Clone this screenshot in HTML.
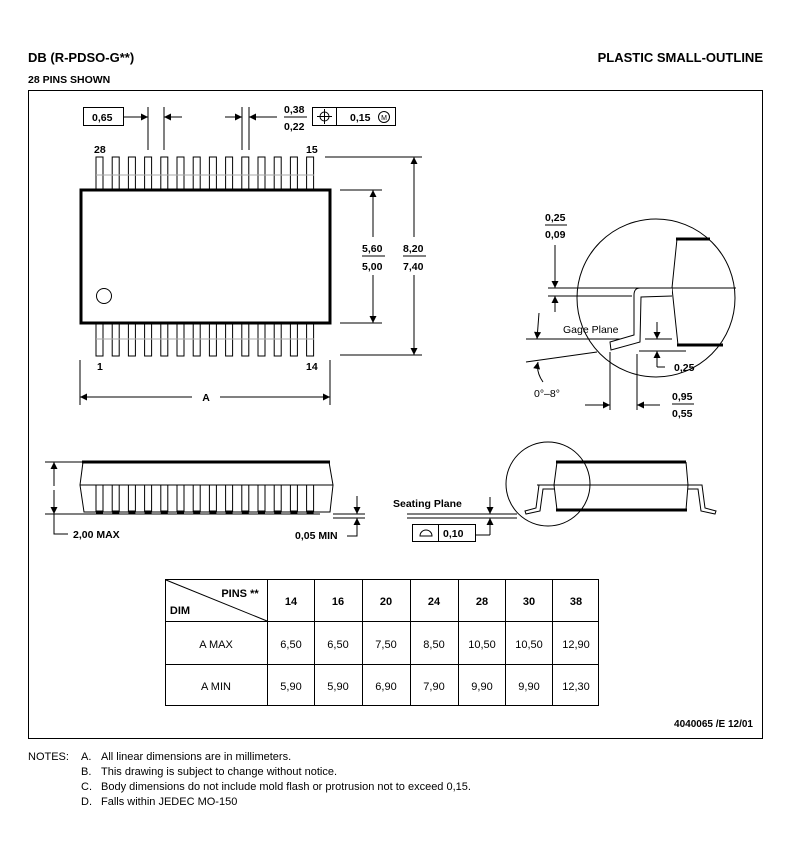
<!DOCTYPE html>
<html><head><meta charset="utf-8"><style>
html,body{margin:0;padding:0;background:#fff;}
svg{display:block;font-family:"Liberation Sans",Arial,sans-serif;}
.b{font-weight:bold;}
</style></head><body>
<svg width="791" height="860" viewBox="0 0 791 860" xmlns="http://www.w3.org/2000/svg">
<defs>
<marker id="a" viewBox="0 0 10 10" refX="10" refY="5" markerWidth="9" markerHeight="7" orient="auto-start-reverse" markerUnits="userSpaceOnUse"><path d="M0,0L10,5L0,10z" fill="#000"/></marker>
</defs>
<g fill="#000">
<text x="28" y="62" class="b" font-size="13">DB (R-PDSO-G**)</text>
<text x="763" y="62" class="b" font-size="13" text-anchor="end">PLASTIC SMALL-OUTLINE</text>
<text x="28" y="83" class="b" font-size="10.5">28 PINS SHOWN</text>
</g>
<rect x="28.5" y="90.5" width="734" height="648" fill="none" stroke="#000" stroke-width="1"/>

<g stroke="#000" stroke-width="1" fill="#fff">
<g id="pt">
<rect x="96" y="157" width="7" height="33"/><rect x="112.2" y="157" width="7" height="33"/><rect x="128.4" y="157" width="7" height="33"/><rect x="144.6" y="157" width="7" height="33"/><rect x="160.8" y="157" width="7" height="33"/><rect x="177" y="157" width="7" height="33"/><rect x="193.2" y="157" width="7" height="33"/><rect x="209.4" y="157" width="7" height="33"/><rect x="225.6" y="157" width="7" height="33"/><rect x="241.8" y="157" width="7" height="33"/><rect x="258" y="157" width="7" height="33"/><rect x="274.2" y="157" width="7" height="33"/><rect x="290.4" y="157" width="7" height="33"/><rect x="306.6" y="157" width="7" height="33"/>
</g>
<use href="#pt" transform="translate(0,166)"/>
</g>
<line x1="96" y1="175" x2="314" y2="175" stroke="#aaa" stroke-width="1"/>
<line x1="96" y1="339" x2="314" y2="339" stroke="#aaa" stroke-width="1"/>
<rect x="81" y="190" width="249" height="133" fill="#fff" stroke="#000" stroke-width="3"/>
<circle cx="104" cy="296" r="7.5" fill="none" stroke="#000" stroke-width="1"/>
<g font-size="10.5" class="b">
<text x="94" y="153">28</text><text x="306" y="153">15</text>
<text x="97" y="370">1</text><text x="306" y="370">14</text>
</g>

<g stroke="#000" stroke-width="1" fill="none">
<rect x="83.5" y="107.5" width="40" height="18"/>
<line x1="148" y1="107" x2="148" y2="150"/><line x1="164" y1="107" x2="164" y2="150"/>
<line x1="242" y1="107" x2="242" y2="150"/><line x1="249" y1="107" x2="249" y2="150"/>
<line x1="123" y1="117" x2="148" y2="117" marker-end="url(#a)"/>
<line x1="182" y1="117" x2="164" y2="117" marker-end="url(#a)"/>
<line x1="225" y1="117" x2="242" y2="117" marker-end="url(#a)"/>
<line x1="277" y1="117" x2="249" y2="117" marker-end="url(#a)"/>
<line x1="284" y1="117" x2="307" y2="117"/>
<rect x="312.5" y="107.5" width="83" height="18"/>
<line x1="336.5" y1="107" x2="336.5" y2="126"/>
<circle cx="324.5" cy="116.5" r="4.5"/><line x1="324.5" y1="109" x2="324.5" y2="124"/><line x1="317" y1="116.5" x2="332" y2="116.5"/>
<circle cx="384" cy="117" r="5.5"/>
</g>
<g font-size="10.5" class="b">
<text x="92" y="121">0,65</text>
<text x="284" y="113">0,38</text><text x="284" y="130">0,22</text>
<text x="350" y="121">0,15</text>
</g>
<text x="384" y="120" font-size="7" text-anchor="middle">M</text>

<g stroke="#000" stroke-width="1" fill="none">
<line x1="340" y1="190" x2="382" y2="190"/><line x1="340" y1="323" x2="382" y2="323"/>
<line x1="373" y1="237" x2="373" y2="190" marker-end="url(#a)"/>
<line x1="373" y1="275" x2="373" y2="323" marker-end="url(#a)"/>
<line x1="325" y1="157" x2="422" y2="157"/><line x1="340" y1="355" x2="422" y2="355"/>
<line x1="414" y1="237" x2="414" y2="157" marker-end="url(#a)"/>
<line x1="414" y1="275" x2="414" y2="355" marker-end="url(#a)"/>
<line x1="362" y1="256" x2="385" y2="256"/><line x1="403" y1="256" x2="426" y2="256"/>
</g>
<g font-size="10.5" class="b">
<text x="362" y="252">5,60</text><text x="362" y="270">5,00</text>
<text x="403" y="252">8,20</text><text x="403" y="270">7,40</text>
</g>

<g stroke="#000" stroke-width="1" fill="none">
<line x1="80" y1="360" x2="80" y2="405"/><line x1="330" y1="360" x2="330" y2="405"/>
<line x1="192" y1="397" x2="80" y2="397" marker-end="url(#a)"/>
<line x1="220" y1="397" x2="330" y2="397" marker-end="url(#a)"/>
</g>
<text x="206" y="401" font-size="10.5" class="b" text-anchor="middle">A</text>

<g stroke="#000" stroke-width="1" fill="none">
<circle cx="656" cy="298" r="79"/>
<line x1="548" y1="288" x2="736" y2="288"/>
<line x1="548" y1="296" x2="632" y2="296"/>
<path d="M677,239 L672,288 L678,345"/>
<line x1="676" y1="239" x2="710" y2="239" stroke-width="3"/>
<line x1="677" y1="345" x2="723" y2="345" stroke-width="3"/>
<path d="M672,288 L640,288 Q634,288 634,295 L634,335 L610,342 L611,350 L640,342 L641,297 L672,296" fill="#fff"/>
<line x1="555" y1="245" x2="555" y2="288" marker-end="url(#a)"/>
<line x1="555" y1="312" x2="555" y2="296" marker-end="url(#a)"/>
<line x1="526" y1="339" x2="620" y2="339"/>
<line x1="526" y1="362" x2="597" y2="352"/>
<path d="M539,313 L537,339" marker-end="url(#a)"/>
<path d="M543,382 Q536,372 538,362" marker-end="url(#a)"/>
<line x1="645" y1="339" x2="672" y2="339"/><line x1="639" y1="351" x2="686" y2="351"/>
<line x1="657" y1="322" x2="657" y2="339" marker-end="url(#a)"/>
<line x1="657" y1="367" x2="657" y2="351" marker-end="url(#a)"/>
<line x1="657" y1="367" x2="665" y2="367"/>
<line x1="610" y1="352" x2="610" y2="410"/><line x1="637" y1="354" x2="637" y2="410"/>
<line x1="585" y1="405" x2="610" y2="405" marker-end="url(#a)"/>
<line x1="660" y1="405" x2="637" y2="405" marker-end="url(#a)"/>
<line x1="545" y1="225" x2="567" y2="225"/>
<line x1="672" y1="404" x2="694" y2="404"/>
</g>
<g font-size="10.5">
<text x="545" y="221" class="b">0,25</text><text x="545" y="238" class="b">0,09</text>
<text x="563" y="333">Gage Plane</text>
<text x="534" y="397">0°–8°</text>
<text x="674" y="371" class="b">0,25</text>
<text x="672" y="400" class="b">0,95</text><text x="672" y="417" class="b">0,55</text>
</g>

<g stroke="#000" stroke-width="1" fill="none">
<path d="M83,462 L80,485 L84,512 L330,512 L333,485 L329,462"/>
<line x1="82" y1="462" x2="330" y2="462" stroke-width="3"/>
<line x1="80" y1="485" x2="333" y2="485"/>
<g id="sp">
<line x1="96" y1="485" x2="96" y2="512"/><line x1="103" y1="485" x2="103" y2="512"/>
</g>
<use href="#sp" x="16.2"/><use href="#sp" x="32.4"/><use href="#sp" x="48.6"/><use href="#sp" x="64.8"/><use href="#sp" x="81"/><use href="#sp" x="97.2"/><use href="#sp" x="113.4"/><use href="#sp" x="129.6"/><use href="#sp" x="145.8"/><use href="#sp" x="162"/><use href="#sp" x="178.2"/><use href="#sp" x="194.4"/><use href="#sp" x="210.6"/>
<line x1="45" y1="462" x2="110" y2="462"/><line x1="45" y1="514" x2="320" y2="514"/>
<line x1="54" y1="486" x2="54" y2="462" marker-end="url(#a)"/>
<line x1="54" y1="490" x2="54" y2="514" marker-end="url(#a)"/>
<polyline points="54,514 54,534 68,534"/>
<line x1="333" y1="514" x2="365" y2="514"/><line x1="333" y1="518" x2="365" y2="518"/>
<line x1="357" y1="496" x2="357" y2="514" marker-end="url(#a)"/>
<line x1="357" y1="536" x2="357" y2="518" marker-end="url(#a)"/>
<polyline points="357,534 357,536 347,536"/>
</g>
<path d="M96,512 h7 m9.2,0 h7 m9.2,0 h7 m9.2,0 h7 m9.2,0 h7 m9.2,0 h7 m9.2,0 h7 m9.2,0 h7 m9.2,0 h7 m9.2,0 h7 m9.2,0 h7 m9.2,0 h7 m9.2,0 h7 m9.2,0 h7" stroke="#000" stroke-width="3" fill="none"/>
<g font-size="10.5" class="b">
<text x="73" y="538">2,00 MAX</text>
<text x="295" y="539">0,05 MIN</text>
</g>

<g stroke="#000" stroke-width="1" fill="none">
<circle cx="548" cy="484" r="42"/>
<path d="M557,462 L554,485 L557,510 M686,462 L688,485 L686,510"/>
<line x1="556" y1="462" x2="686" y2="462" stroke-width="3"/>
<line x1="556" y1="510" x2="687" y2="510" stroke-width="3"/>
<line x1="537" y1="485" x2="700" y2="485"/>
<path d="M554,485 L539,485 L536,508 L525,511 L526,514 L540,511 L543,489 L554,489"/>
<path d="M688,485 L702,485 L705,508 L716,511 L715,514 L701,511 L698,489 L688,489"/>
<line x1="407" y1="514" x2="517" y2="514"/><line x1="407" y1="518" x2="517" y2="518"/>
<line x1="490" y1="497" x2="490" y2="514" marker-end="url(#a)"/>
<line x1="490" y1="535" x2="490" y2="518" marker-end="url(#a)"/>
<polyline points="475,535 490,535"/>
<rect x="412.5" y="524.5" width="63" height="17"/>
<line x1="438.5" y1="524" x2="438.5" y2="542"/>
<path d="M420,536 A6,6 0 0 1 432,536 Z"/>
</g>
<g font-size="10.5" class="b">
<text x="393" y="507">Seating Plane</text>
<text x="443" y="537">0,10</text>
</g>

<g stroke="#000" stroke-width="1" fill="none">
<rect x="165.5" y="579.5" width="433" height="126"/>
<line x1="165" y1="621.5" x2="599" y2="621.5"/>
<line x1="165" y1="664.5" x2="599" y2="664.5"/>
<line x1="267.5" y1="579" x2="267.5" y2="706"/>
<line x1="314.5" y1="579" x2="314.5" y2="706"/>
<line x1="362.5" y1="579" x2="362.5" y2="706"/>
<line x1="410.5" y1="579" x2="410.5" y2="706"/>
<line x1="458.5" y1="579" x2="458.5" y2="706"/>
<line x1="505.5" y1="579" x2="505.5" y2="706"/>
<line x1="552.5" y1="579" x2="552.5" y2="706"/>
<line x1="166" y1="580" x2="267" y2="621"/>
</g>
<g font-size="11" text-anchor="middle">
<g class="b">
<text x="240" y="597">PINS **</text>
<text x="180" y="614">DIM</text>
<text x="291" y="605">14</text><text x="338" y="605">16</text><text x="386" y="605">20</text><text x="434" y="605">24</text><text x="482" y="605">28</text><text x="529" y="605">30</text><text x="576" y="605">38</text>
</g>
<text x="216" y="648">A  MAX</text>
<text x="291" y="648">6,50</text><text x="338" y="648">6,50</text><text x="386" y="648">7,50</text><text x="434" y="648">8,50</text><text x="482" y="648">10,50</text><text x="529" y="648">10,50</text><text x="576" y="648">12,90</text>
<text x="216" y="690">A  MIN</text>
<text x="291" y="690">5,90</text><text x="338" y="690">5,90</text><text x="386" y="690">6,90</text><text x="434" y="690">7,90</text><text x="482" y="690">9,90</text><text x="529" y="690">9,90</text><text x="576" y="690">12,30</text>
</g>
<text x="753" y="727" font-size="10" class="b" text-anchor="end">4040065 /E 12/01</text>

<g font-size="11">
<text x="28" y="760">NOTES:</text>
<text x="81" y="760">A.</text><text x="101" y="760">All linear dimensions are in millimeters.</text>
<text x="81" y="775">B.</text><text x="101" y="775">This drawing is subject to change without notice.</text>
<text x="81" y="790">C.</text><text x="101" y="790">Body dimensions do not include mold flash or protrusion not to exceed 0,15.</text>
<text x="81" y="805">D.</text><text x="101" y="805">Falls within JEDEC MO-150</text>
</g>
</svg>
</body></html>
